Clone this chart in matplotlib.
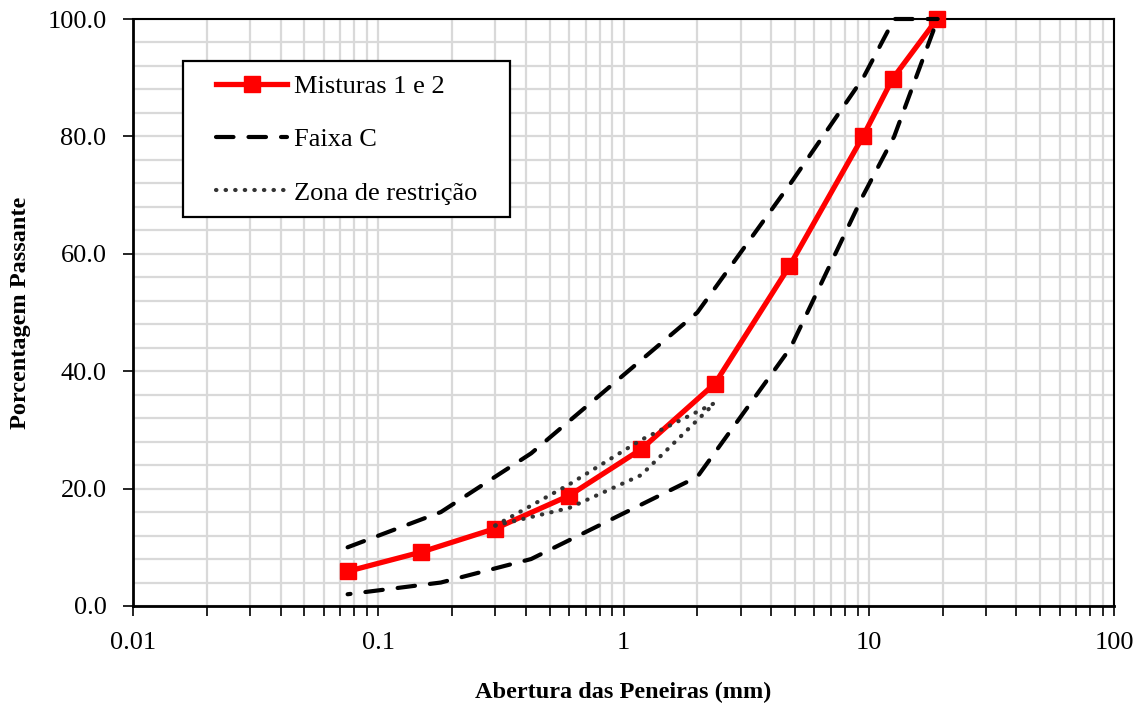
import matplotlib
matplotlib.use("Agg")
import matplotlib.pyplot as plt
from matplotlib.ticker import FixedLocator, NullFormatter, LogLocator, FuncFormatter
from matplotlib.patches import Rectangle
import numpy as np

plt.rcParams['font.family'] = ['Liberation Serif', 'DejaVu Serif']

# Data
sieve_mix = [0.075, 0.15, 0.3, 0.6, 1.18, 2.36, 4.75, 9.5, 12.5, 19.0]
pass_mix = [5.9, 9.2, 13.2, 18.8, 26.7, 37.9, 57.9, 80.1, 89.8, 100.0]

sieve_band = [0.075, 0.18, 0.42, 2.0, 4.8, 9.5, 12.7, 19.1]
band_upper = [10, 16, 26, 50, 72, 90, 100, 100]
band_lower = [2, 4, 8, 22, 44, 70, 80, 100]

sieve_zone = [0.3, 0.6, 1.18, 2.36]
zone_upper = [13.7, 20.7, 28.3, 34.6]
zone_lower = [13.7, 16.7, 22.3, 34.6]

labels = ["Misturas 1 e 2", "Faixa C", "Zona de restrição"]
xlabel = "Abertura das Peneiras (mm)"
ylabel = "Porcentagem Passante"

fig = plt.figure(figsize=(11.45, 7.03), dpi=100)
ax = fig.add_axes([133/1145, 1-606/703, 981/1145, 587/703])

grid_c = '#d9d9d9'
ax.set_xscale('log')
ax.set_xlim(0.01, 100)
ax.set_ylim(0, 100)

ax.xaxis.set_major_locator(LogLocator(base=10, numticks=10))
ax.xaxis.set_minor_locator(LogLocator(base=10, subs=np.arange(2, 10), numticks=100))
ax.xaxis.set_minor_formatter(NullFormatter())
ax.xaxis.set_major_formatter(FuncFormatter(lambda v, p: {0.01: '0.01', 0.1: '0.1', 1: '1', 10: '10', 100: '100'}.get(round(v, 4), '')))
ax.yaxis.set_major_locator(FixedLocator(np.arange(0, 101, 20)))
ax.yaxis.set_minor_locator(FixedLocator(np.arange(0, 101, 4)))
ax.yaxis.set_major_formatter(FuncFormatter(lambda v, p: f"{v:.1f}"))
ax.grid(True, which='both', axis='x', color=grid_c, lw=1.6)
ax.grid(True, which='both', axis='y', color=grid_c, lw=1.6)
ax.set_axisbelow(True)

ax.tick_params(axis='x', which='major', direction='out', length=7, width=1.2, labelsize=19, pad=12, colors='black')
ax.tick_params(axis='x', which='minor', direction='out', length=7, width=1.2)
ax.tick_params(axis='y', which='major', direction='out', length=7, width=1.2, labelsize=19, pad=12)
ax.tick_params(axis='y', which='minor', length=0)

for s in ['left', 'bottom']:
    ax.spines[s].set_linewidth(2)
for s in ['top', 'right']:
    ax.spines[s].set_linewidth(1.5)

l1, = ax.plot(sieve_mix, pass_mix, color='#ff0000', lw=3.8, marker='s', ms=12,
              markeredgecolor='#ff0000', clip_on=False, zorder=3)
dash = (0, (4.2, 3.6))
l2, = ax.plot(sieve_band, band_upper, color='black', lw=3.0, linestyle=dash,
              dash_capstyle='round', clip_on=False, zorder=4)
ax.plot(sieve_band, band_lower, color='black', lw=3.0, linestyle=(3.5, (4.2, 3.6)),
        dash_capstyle='round', clip_on=False, zorder=4)
dot = (0, (0.1, 2.2))
l3, = ax.plot(sieve_zone, zone_upper, color='#333333', lw=3.0, linestyle=dot,
              dash_capstyle='round', zorder=5)
ax.plot(sieve_zone, zone_lower, color='#333333', lw=3.0, linestyle=dot,
        dash_capstyle='round', zorder=5)

ax.set_xlabel(xlabel, fontsize=17.5, fontweight='bold', labelpad=20)
ax.set_ylabel(ylabel, fontsize=17.5, fontweight='bold', labelpad=12)

# legend frame (drawn separately to match the wide padding)
x0 = (183 - 133) / 981
x1 = (510 - 133) / 981
yt = (606 - 61) / 587
yb = (606 - 217) / 587
ax.add_patch(Rectangle((x0, yb), x1 - x0, yt - yb, transform=ax.transAxes,
                       facecolor='white', edgecolor='black', lw=1.6, zorder=6))

leg = ax.legend([l1, l2, l3], labels, loc='upper left',
                bbox_to_anchor=((216 - 133) / 981, (606 - 75) / 587),
                fontsize=19, frameon=False,
                handlelength=2.7, labelspacing=1.12, handletextpad=0.25,
                borderpad=0, borderaxespad=0)
leg.set_zorder(7)

fig.savefig('out.png', dpi=100)
